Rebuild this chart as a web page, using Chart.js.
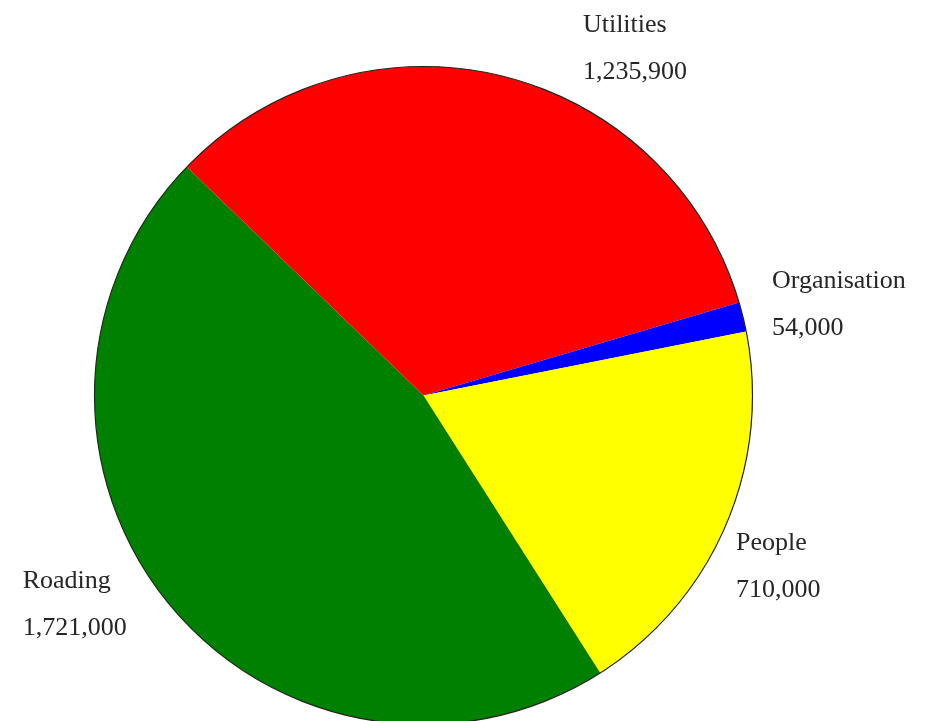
<!DOCTYPE html>
<html>
<head>
<meta charset="utf-8">
<script src="https://cdn.jsdelivr.net/npm/chart.js@4.4.1/dist/chart.umd.min.js"></script>
<style>
    html, body { margin: 0; padding: 0; background: #fff; overflow: hidden; }
    #wrap { width: 932px; height: 740px; position: relative; }
</style>
</head>
<body>
<div id="wrap"><canvas id="pieChart"></canvas></div>
<script>
// 数据
const categories = ["Utilities", "Organisation", "People", "Roading"];
const values = [1235900, 54000, 710000, 1721000];
const valueLabels = ["1,235,900", "54,000", "710,000", "1,721,000"];
const sliceColors = ["#ff0000", "#0000ff", "#ffff00", "#008000"];

// 标签相对扇区外缘中点的偏移
const labelOffsets = [
    [81, -44],
    [29, -29],
    [10, 25],
    [-146, -16],
];

// 外圈描边 + 标签
const outlineAndLabels = {
    id: "outlineAndLabels",
    afterDatasetsDraw(chart) {
        const ctx = chart.ctx;
        const arcs = chart.getDatasetMeta(0).data;
        if (!arcs.length) return;
        const a0 = arcs[0];

        ctx.save();
        ctx.beginPath();
        ctx.arc(a0.x, a0.y, a0.outerRadius, 0, Math.PI * 2);
        ctx.lineWidth = 1.2;
        ctx.strokeStyle = "#222";
        ctx.stroke();

        ctx.fillStyle = "#262626";
        ctx.font = "26px 'Liberation Serif', 'DejaVu Serif', serif";
        ctx.textAlign = "left";
        ctx.textBaseline = "alphabetic";
        arcs.forEach((arc, i) => {
            const mid = (arc.startAngle + arc.endAngle) / 2;
            const px = arc.x + Math.cos(mid) * arc.outerRadius + labelOffsets[i][0];
            const py = arc.y + Math.sin(mid) * arc.outerRadius + labelOffsets[i][1];
            ctx.fillText(categories[i], px, py);
            ctx.fillText(valueLabels[i], px, py + 47);
        });
        ctx.restore();
    },
};

const pieCtx = document.getElementById("pieChart").getContext("2d");
const pieChart = new Chart(pieCtx, {
    type: "pie",
    data: {
        labels: categories,
        datasets: [{
            data: values,
            backgroundColor: sliceColors,
            borderWidth: 0,
        }, ],
    },
    options: {
        responsive: true,
        maintainAspectRatio: false,
        animation: false,
        rotation: -46,
        layout: {
            padding: { left: 94.5, right: 179.5, top: 66.5, bottom: 15.5 },
        },
        plugins: {
            legend: { display: false },
            tooltip: { enabled: false },
        },
    },
    plugins: [outlineAndLabels],
});
</script>
</body>
</html>
